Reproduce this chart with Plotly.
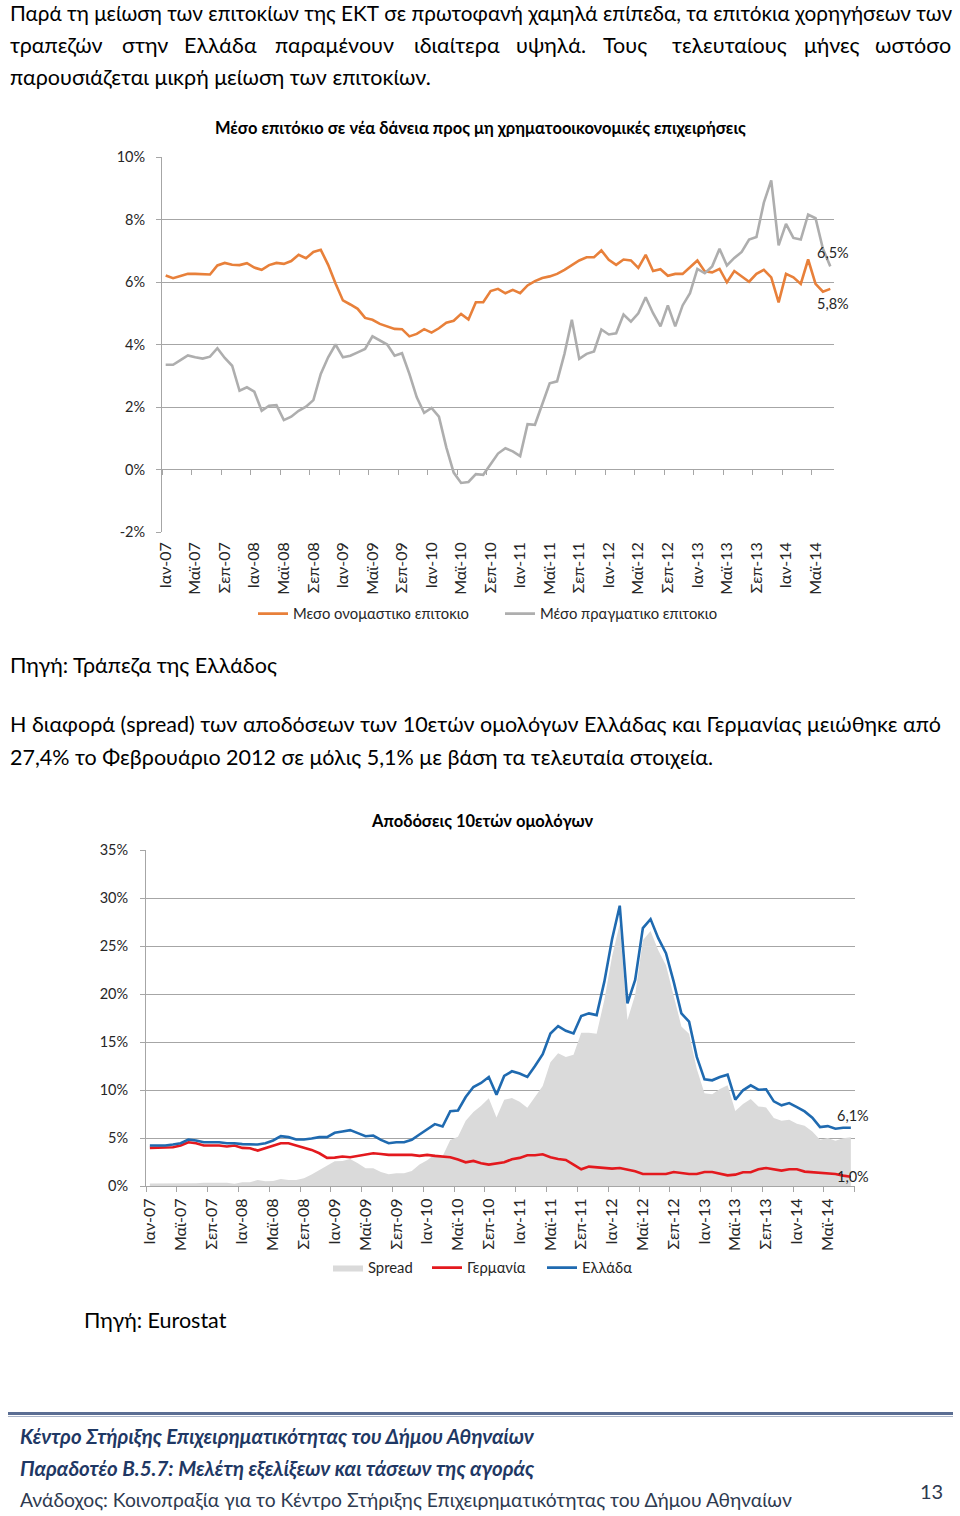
import plotly.graph_objects as go

W, H = 960, 1516
FONT = "Lato, 'Noto Sans', 'DejaVu Sans', sans-serif"

# ---------------- data ----------------
MONTHS = ["Ιαν", "Φεβ", "Μαρ", "Απρ", "Μαϊ", "Ιουν", "Ιουλ", "Αυγ", "Σεπ", "Οκτ", "Νοε", "Δεκ"]
START_YEAR = 2007

# Μέσο ονομαστικό επιτόκιο (%), Ιαν-07 .. Ιουλ-14
nominal_rate = [
    6.21, 6.12, 6.19, 6.26, 6.26, 6.26, 6.24, 6.53, 6.61, 6.55,
    6.54, 6.60, 6.46, 6.39, 6.54, 6.61, 6.58, 6.67, 6.87, 6.76,
    6.96, 7.03, 6.55, 5.95, 5.41, 5.28, 5.14, 4.85, 4.79, 4.66,
    4.57, 4.50, 4.49, 4.26, 4.34, 4.49, 4.38, 4.52, 4.70, 4.76,
    4.98, 4.80, 5.35, 5.35, 5.71, 5.78, 5.64, 5.75, 5.64, 5.89,
    6.03, 6.13, 6.18, 6.26, 6.39, 6.54, 6.69, 6.79, 6.79, 7.01,
    6.71, 6.55, 6.72, 6.69, 6.45, 6.87, 6.35, 6.41, 6.20, 6.26,
    6.26, 6.47, 6.69, 6.34, 6.31, 6.42, 5.99, 6.35, 6.18, 6.01,
    6.26, 6.39, 6.15, 5.35, 6.26, 6.15, 5.94, 6.72, 5.94, 5.69,
    5.78,
]
# Μέσο πραγματικό επιτόκιο (%)
real_rate = [
    3.35, 3.35, 3.50, 3.65, 3.59, 3.55, 3.61, 3.88, 3.57, 3.32,
    2.52, 2.63, 2.49, 1.88, 2.04, 2.06, 1.58, 1.69, 1.88, 2.01,
    2.22, 3.06, 3.59, 4.00, 3.59, 3.64, 3.75, 3.86, 4.26, 4.12,
    4.00, 3.64, 3.72, 3.06, 2.31, 1.81, 1.97, 1.69, 0.71, -0.10,
    -0.43, -0.40, -0.15, -0.17, 0.17, 0.51, 0.68, 0.58, 0.43, 1.45,
    1.43, 2.09, 2.76, 2.82, 3.70, 4.79, 3.54, 3.70, 3.78, 4.48,
    4.32, 4.36, 4.96, 4.73, 5.00, 5.51, 5.00, 4.58, 5.25, 4.58,
    5.25, 5.64, 6.42, 6.28, 6.50, 7.06, 6.53, 6.77, 6.96, 7.36,
    7.44, 8.54, 9.25, 7.17, 7.86, 7.41, 7.36, 8.16, 8.04, 7.06,
    6.50,
]

# Αποδόσεις 10ετών ομολόγων (%), Ιαν-07 .. Αυγ-14
germany = [
    3.97, 3.97, 3.97, 4.04, 4.22, 4.56, 4.46, 4.22, 4.22, 4.22,
    4.11, 4.22, 3.97, 3.94, 3.69, 3.97, 4.22, 4.46, 4.46, 4.22,
    4.04, 3.76, 3.41, 2.93, 2.96, 3.07, 3.00, 3.14, 3.34, 3.41,
    3.34, 3.24, 3.24, 3.24, 3.24, 3.14, 3.24, 3.14, 3.10, 3.00,
    2.75, 2.47, 2.61, 2.37, 2.23, 2.37, 2.47, 2.79, 2.93, 3.21,
    3.21, 3.31, 3.00, 2.82, 2.72, 2.23, 1.74, 2.02, 1.95, 1.92,
    1.81, 1.88, 1.74, 1.53, 1.25, 1.25, 1.25, 1.25, 1.46, 1.36,
    1.25, 1.25, 1.46, 1.46, 1.25, 1.11, 1.18, 1.43, 1.43, 1.74,
    1.88, 1.74, 1.60, 1.74, 1.74, 1.50, 1.43, 1.32, 1.25, 1.25,
    1.08, 0.97,
]
greece = [
    4.22, 4.22, 4.22, 4.32, 4.46, 4.84, 4.74, 4.56, 4.56, 4.56,
    4.46, 4.46, 4.36, 4.32, 4.32, 4.46, 4.74, 5.19, 5.09, 4.84,
    4.84, 4.95, 5.09, 5.09, 5.54, 5.68, 5.82, 5.51, 5.19, 5.26,
    4.81, 4.46, 4.56, 4.56, 4.81, 5.37, 5.92, 6.45, 6.20, 7.80,
    7.87, 9.27, 10.31, 10.73, 11.36, 9.51, 11.46, 11.95, 11.71, 11.36,
    12.51, 13.73, 15.89, 16.66, 16.17, 15.89, 17.70, 17.98, 17.80, 21.29,
    25.71, 29.20, 19.02, 21.46, 26.86, 27.80, 25.82, 24.25, 21.29, 17.98,
    17.11, 13.45, 11.11, 11.01, 11.36, 11.60, 8.99, 9.97, 10.49, 10.03,
    10.07, 8.82, 8.40, 8.64, 8.22, 7.77, 7.11, 6.13, 6.24, 5.96,
    6.06, 6.06,
]
spread = [
    0.25, 0.25, 0.25, 0.28, 0.24, 0.28, 0.28, 0.34, 0.34, 0.34,
    0.35, 0.24, 0.39, 0.38, 0.63, 0.49, 0.52, 0.73, 0.63, 0.62,
    0.80, 1.19, 1.68, 2.16, 2.58, 2.61, 2.82, 2.37, 1.85, 1.85,
    1.47, 1.22, 1.32, 1.32, 1.57, 2.23, 2.68, 3.31, 3.10, 4.80,
    5.12, 6.80, 7.70, 8.36, 9.13, 7.14, 8.99, 9.16, 8.78, 8.15,
    9.30, 10.42, 12.89, 13.84, 13.45, 13.66, 15.96, 15.96, 15.85, 19.37,
    23.90, 27.32, 17.28, 19.93, 25.61, 26.55, 24.57, 23.00, 19.83, 16.62,
    15.86, 12.20, 9.65, 9.55, 10.11, 10.49, 7.81, 8.54, 9.06, 8.29,
    8.19, 7.08, 6.80, 6.90, 6.48, 6.27, 5.68, 4.81, 4.99, 4.71,
    4.98, 5.09,
]

top_ticks = [-2, 0, 2, 4, 6, 8, 10]
bottom_ticks = [0, 5, 10, 15, 20, 25, 30, 35]


def month_labels(n):
    return [f"{MONTHS[i % 12]}-{(START_YEAR + i // 12) % 100:02d}" for i in range(n)]


def pct(v):
    return f"{v:.1f}%".replace(".", ",")


def px(x):
    return x / W


def py(y):
    return 1 - y / H


top_cats = month_labels(len(nominal_rate))
bot_cats = month_labels(len(greece))

ORANGE = "#E8803A"
LGRAY = "#AEAEAE"
RED = "#E3191E"
BLUE = "#1F6AB0"
FILL = "#DADADA"
GRID = "#A6A6A6"
TXT = "#262626"

fig = go.Figure()

# ---- top chart ----
fig.add_trace(go.Scatter(x=top_cats, y=nominal_rate, name="Μεσο ονομαστικο επιτοκιο", mode="lines",
                         line=dict(color=ORANGE, width=2.6), xaxis="x", yaxis="y",
                         legend="legend", legendwidth=202, hoverinfo="skip"))
fig.add_trace(go.Scatter(x=top_cats, y=real_rate, name="Μέσο πραγματικο επιτοκιο", mode="lines",
                         line=dict(color=LGRAY, width=2.6), xaxis="x", yaxis="y",
                         legend="legend", legendwidth=210, hoverinfo="skip"))
# invisible companion trace that carries the tick marks on the 0% line
fig.add_trace(go.Scatter(x=top_cats, y=nominal_rate, mode="lines", opacity=0,
                         line=dict(width=0), xaxis="x3", yaxis="y", showlegend=False,
                         hoverinfo="skip"))

# ---- bottom chart ----
fig.add_trace(go.Scatter(x=bot_cats, y=spread, name="Spread", mode="lines", fill="tozeroy",
                         fillcolor=FILL, line=dict(width=0, color=FILL), xaxis="x2", yaxis="y2",
                         legend="legend2", legendwidth=54, hoverinfo="skip"))
fig.add_trace(go.Scatter(x=bot_cats, y=germany, name="Γερμανία", mode="lines",
                         line=dict(color=RED, width=2.6), xaxis="x2", yaxis="y2",
                         legend="legend2", legendwidth=70, hoverinfo="skip"))
fig.add_trace(go.Scatter(x=bot_cats, y=greece, name="Ελλάδα", mode="lines",
                         line=dict(color=BLUE, width=2.6), xaxis="x2", yaxis="y2",
                         legend="legend2", legendwidth=60, hoverinfo="skip"))

xtickfont = dict(family=FONT, size=16, color=TXT)
ytickfont = dict(family=FONT, size=14.5, color=TXT)
legfont = dict(family=FONT, size=14.8, color=TXT)

fig.update_layout(
    width=W, height=H,
    margin=dict(l=0, r=0, t=0, b=0, autoexpand=False),
    paper_bgcolor="white", plot_bgcolor="white",
    font=dict(family=FONT, color=TXT),
    xaxis=dict(domain=[px(162), px(834)], anchor="y", type="category", automargin=False,
               range=[-0.5, len(top_cats) - 0.5], tickmode="linear", tick0=0, dtick=4,
               tickangle=-90, ticks="", showgrid=False, showline=False, zeroline=False,
               tickfont=xtickfont, ticklabelstandoff=6),
    xaxis3=dict(overlaying="x", anchor="free", position=py(469), type="category", automargin=False,
                range=[-0.5, len(top_cats) - 0.5], tickmode="linear", tick0=0, dtick=4,
                tickson="boundaries", ticks="outside", ticklen=5, tickcolor=GRID,
                showticklabels=False, showgrid=False, showline=False, zeroline=False),
    yaxis=dict(domain=[py(532), py(157)], anchor="x", range=[top_ticks[0], top_ticks[-1]],
               automargin=False,
               tickmode="array", tickvals=top_ticks, ticktext=[f"{v}%" for v in top_ticks],
               showgrid=True, gridcolor=GRID, gridwidth=1, showline=True, linecolor=GRID,
               ticks="outside", ticklen=5, tickcolor=GRID, zeroline=False,
               tickfont=ytickfont, ticklabelstandoff=8),
    xaxis2=dict(domain=[px(146), px(854.7)], anchor="y2", type="category", automargin=False,
                range=[-0.5, len(bot_cats) - 0.5], tickmode="linear", tick0=0, dtick=4,
                tickson="boundaries", tickangle=-90, ticks="outside", ticklen=5,
                tickcolor=GRID, showgrid=False, showline=True, linecolor=GRID, zeroline=False,
                tickfont=xtickfont, ticklabelstandoff=5),
    yaxis2=dict(domain=[py(1186), py(850)], anchor="x2", range=[bottom_ticks[0], bottom_ticks[-1]],
                automargin=False,
                tickmode="array", tickvals=bottom_ticks, ticktext=[f"{v}%" for v in bottom_ticks],
                showgrid=True, gridcolor=GRID, gridwidth=1, showline=True, linecolor=GRID,
                ticks="outside", ticklen=5, tickcolor=GRID, zeroline=False,
                tickfont=ytickfont, ticklabelstandoff=9),
    legend=dict(orientation="h", x=px(253), y=py(614), xanchor="left", yanchor="middle",
                font=legfont, bgcolor="rgba(0,0,0,0)", itemwidth=30, traceorder="normal"),
    legend2=dict(orientation="h", x=px(328), y=py(1268), xanchor="left", yanchor="middle",
                 font=legfont, bgcolor="rgba(0,0,0,0)", itemwidth=30, traceorder="normal"),
    showlegend=True,
)

ann = []


def text(t, x, y, size, xanchor="left", color="#000000", **kw):
    ann.append(dict(text=t, x=px(x), y=py(y), xref="paper", yref="paper", xanchor=xanchor,
                    yanchor="middle", showarrow=False,
                    font=dict(family=FONT, size=size, color=color), **kw))


# rough glyph-width model (em units) used to spread words of a justified line
NARROW = set("ιίϊΐilj,.:;!|'")
SEMI = set("τrft()-/")
WIDE = set("ωώφψμmwMΜΩ%")


def est_width(word, size):
    w = 0.0
    for ch in word:
        if ch in NARROW:
            w += 0.26
        elif ch in SEMI:
            w += 0.36
        elif ch in WIDE:
            w += 0.74
        elif ch.isupper():
            w += 0.64
        elif ch.isdigit():
            w += 0.55
        else:
            w += 0.53
    return w * size


def justified(line, x0, x1, y, size):
    words = line.split(" ")
    widths = [est_width(w, size) for w in words]
    gap = max(4.0, (x1 - x0 - sum(widths)) / (len(words) - 1))
    x = x0
    for k, (w, wd) in enumerate(zip(words, widths)):
        if k == len(words) - 1:
            text(w, x1, y, size, xanchor="right")
        else:
            text(w, x, y, size, xanchor="left")
        x += wd + gap


BODY = 21.5
text("Παρά τη μείωση των επιτοκίων της ΕΚΤ σε πρωτοφανή χαμηλά επίπεδα, τα επιτόκια χορηγήσεων των",
     8, 13, 20.75)
justified("τραπεζών στην Ελλάδα παραμένουν ιδιαίτερα υψηλά. Τους τελευταίους μήνες ωστόσο",
          8, 953, 45, BODY)
text("παρουσιάζεται μικρή μείωση των επιτοκίων.", 8, 77, BODY)

text("<b>Μέσο επιτόκιο σε νέα δάνεια προς μη χρηματοοικονομικές επιχειρήσεις</b>", 480, 128, 16.5,
     xanchor="center")
text("Πηγή: Τράπεζα της Ελλάδος", 8, 665, BODY)

text("Η διαφορά (spread) των αποδόσεων των 10ετών ομολόγων Ελλάδας και Γερμανίας μειώθηκε από",
     8, 724, BODY)
text("27,4% το Φεβρουάριο 2012 σε μόλις 5,1% με βάση τα τελευταία στοιχεία.", 8, 757, BODY)

text("<b>Αποδόσεις 10ετών ομολόγων</b>", 482, 821, 16.5, xanchor="center")
text("Πηγή: Eurostat", 82, 1320, BODY)

FOOT = "#1F3864"
text("<b><i>Κέντρο Στήριξης Επιχειρηματικότητας του Δήμου Αθηναίων</i></b>", 18, 1436, 20.5, color=FOOT)
text("<b><i>Παραδοτέο Β.5.7: Μελέτη εξελίξεων και τάσεων της αγοράς</i></b>", 18, 1468, 20.5, color=FOOT)
text("Ανάδοχος: Κοινοπραξία για το Κέντρο Στήριξης Επιχειρηματικότητας του Δήμου Αθηναίων", 18, 1499, 19.3,
     color="#2E3A50")
text("13", 931, 1491, 20, xanchor="center", color="#2E3A50")

# data labels at the last points
lab = dict(showarrow=False, font=dict(family=FONT, size=14.5, color=TXT), xanchor="center",
           yanchor="middle")
ann.append(dict(text=pct(real_rate[-1]), x=top_cats[-1], y=real_rate[-1], xref="x", yref="y",
                xshift=3, yshift=14, **lab))
ann.append(dict(text=pct(nominal_rate[-1]), x=top_cats[-1], y=nominal_rate[-1], xref="x", yref="y",
                xshift=3, yshift=-15, **lab))
ann.append(dict(text=pct(greece[-1]), x=bot_cats[-1], y=greece[-1], xref="x2", yref="y2",
                xshift=2, yshift=12, **lab))
ann.append(dict(text=pct(germany[-1]), x=bot_cats[-1], y=germany[-1], xref="x2", yref="y2",
                xshift=2, yshift=0, **lab))

fig.update_layout(annotations=ann)

# footer rule
fig.add_shape(type="line", xref="paper", yref="paper", x0=px(8), x1=px(953), y0=py(1413.5),
              y1=py(1413.5), line=dict(color="#5B6E93", width=3))
fig.add_shape(type="line", xref="paper", yref="paper", x0=px(8), x1=px(953), y0=py(1416.5),
              y1=py(1416.5), line=dict(color="#A9B3C7", width=1))

# the page is a full-bleed 960x1516 figure: drop the browser's default body margin
fig.write_html("out.html",
               config={"displayModeBar": False, "staticPlot": True},
               post_script="document.body.style.margin='0px';document.body.style.overflow='hidden';")
